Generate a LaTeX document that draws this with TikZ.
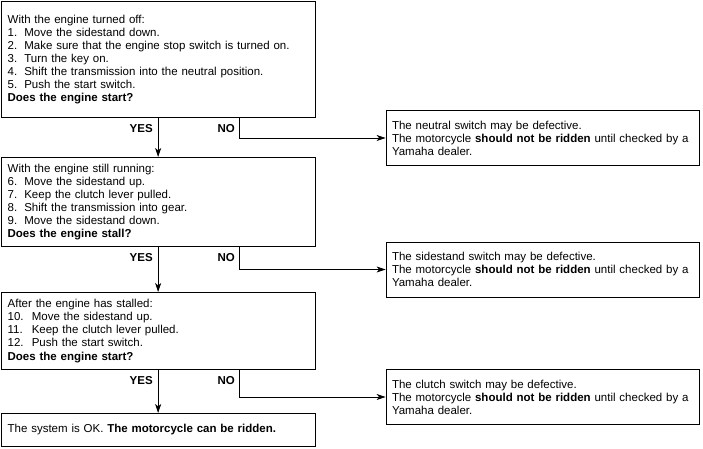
\documentclass[tikz,border=0pt]{standalone}
\usepackage{fontspec}
\setmainfont{Liberation Sans}
\usetikzlibrary{arrows.meta, positioning}
\newcommand{\stepno}[2][1.45em]{\makebox[#1][l]{#2.}}

\begin{document}
\begin{tikzpicture}[x=1pt, y=-1pt,
  txt/.style={font=\fontsize{11.5}{13.1}\selectfont},
  qbox/.style={txt, draw, line width=0.8pt, align=left, text width=301pt, minimum width=313.5pt, inner xsep=6pt, inner ysep=0pt, anchor=north west},
  rbox/.style={txt, draw, line width=0.8pt, align=left, text width=301pt, minimum width=313pt, minimum height=55pt, inner xsep=6pt, inner ysep=0pt},
  ans/.style={txt, font=\fontsize{11.5}{13.1}\selectfont\bfseries, inner sep=0pt},
  arr/.style={line width=0.8pt, -{Stealth[length=9pt, width=6pt, inset=2.5pt]}},
]
  \useasboundingbox (0,0) rectangle (703,449);
  % Questions
  \node[qbox, minimum height=116pt] (q1) at (1,1) {With the engine turned off:\\
    \stepno{1}Move the sidestand down.\\
    \stepno{2}Make sure that the engine stop switch is turned on.\\
    \stepno{3}Turn the key on.\\
    \stepno{4}Shift the transmission into the neutral position.\\
    \stepno{5}Push the start switch.\\
    \textbf{Does the engine start?}};
  \node[qbox, minimum height=89pt] (q2) at (1,157) {With the engine still running:\\
    \stepno{6}Move the sidestand up.\\
    \stepno{7}Keep the clutch lever pulled.\\
    \stepno{8}Shift the transmission into gear.\\
    \stepno{9}Move the sidestand down.\\
    \textbf{Does the engine stall?}};
  \node[qbox, minimum height=77pt] (q3) at (1,292) {After the engine has stalled:\\
    \stepno[2.1em]{10}Move the sidestand up.\\
    \stepno[2.1em]{11}Keep the clutch lever pulled.\\
    \stepno[2.1em]{12}Push the start switch.\\
    \textbf{Does the engine start?}};
  \node[qbox, minimum height=33pt] (ok) at (1,413) {The system is OK. \textbf{The motorcycle can be ridden.}};
  % Faults
  \node[rbox] (neutral) at (542.5,138) {The neutral switch may be defective.\\
    The motorcycle \textbf{should not be ridden} until checked by a\\ Yamaha dealer.};
  \node[rbox] (sidestand) at (542.5,269.5) {The sidestand switch may be defective.\\
    The motorcycle \textbf{should not be ridden} until checked by a\\ Yamaha dealer.};
  \node[rbox] (clutch) at (542.5,397) {The clutch switch may be defective.\\
    The motorcycle \textbf{should not be ridden} until checked by a\\ Yamaha dealer.};
  % YES arrows
  \draw[arr] (q1.south) -- node[ans, pos=0.27, left=5pt] {YES} (q2.north);
  \draw[arr] (q2.south) -- node[ans, pos=0.24, left=5pt] {YES} (q3.north);
  \draw[arr] (q3.south) -- node[ans, pos=0.25, left=5pt] {YES} (ok.north);
  % NO arrows
  \draw[arr] ([xshift=81pt]q1.south) |- node[ans, pos=0.26, left=4pt] {NO} (neutral.west);
  \draw[arr] ([xshift=81pt]q2.south) |- node[ans, pos=0.24, left=4pt] {NO} (sidestand.west);
  \draw[arr] ([xshift=81pt]q3.south) |- node[ans, pos=0.2, left=4pt] {NO} (clutch.west);
\end{tikzpicture}
\end{document}
